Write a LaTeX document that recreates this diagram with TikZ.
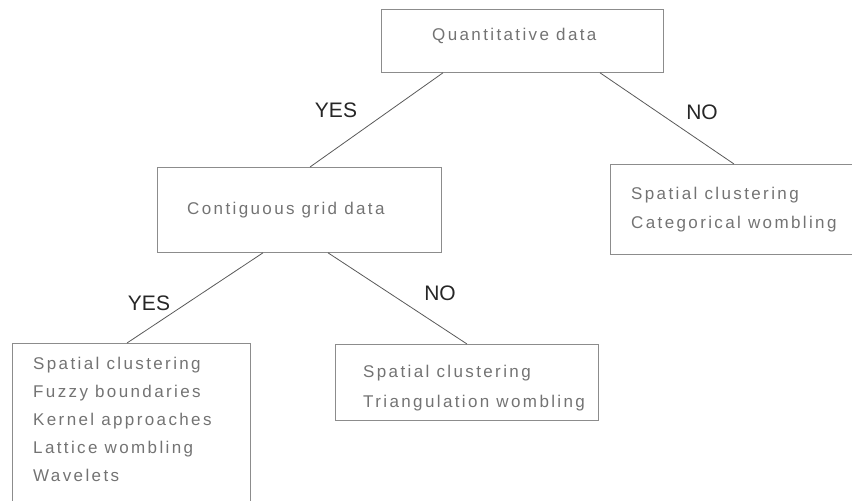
\documentclass[tikz,border=0pt]{standalone}
\usepackage{fontspec}
\setmainfont{Liberation Sans}
\newfontfamily\boxfont[LetterSpace=14]{Liberation Sans}
\tikzset{
  box/.style={draw=black!45, line width=0.8pt, inner sep=0pt, anchor=north west},
  txt/.style={font=\boxfont\fontsize{17}{20}\selectfont, text=black!55, inner sep=0pt, anchor=base west},
  lab/.style={font=\fontsize{21}{24}\selectfont, text=black!85, inner sep=0pt},
  conn/.style={draw=black!65, line width=0.8pt}
}
\begin{document}
\begin{tikzpicture}[x=1pt,y=-1pt]
\useasboundingbox (0,0) rectangle (852,501);
\clip (0,0) rectangle (852,501);
% boxes
\node[box, minimum width=282pt, minimum height=63pt] (q) at (381,9) {};
\node[box, minimum width=284pt, minimum height=85pt] (c) at (157,167) {};
\node[box, minimum width=300pt, minimum height=90pt] (r) at (610,164) {};
\node[box, minimum width=238pt, minimum height=220pt] (l) at (12,343) {};
\node[box, minimum width=263pt, minimum height=76pt] (m) at (335,344) {};
% texts
\node[txt] (tq) at (432,40) {Quantitative data};
\node[txt] (tc) at (187,214) {Contiguous grid data};
\node[txt] (tr1) at (631,199) {Spatial clustering};
\node[txt] (tr2) at (631,228) {Categorical wombling};
\node[txt] (tl1) at (33,369) {Spatial clustering};
\node[txt] (tl2) at (33,397) {Fuzzy boundaries};
\node[txt] (tl3) at (33,425) {Kernel approaches};
\node[txt] (tl4) at (33,453) {Lattice wombling};
\node[txt] (tl5) at (33,481) {Wavelets};
\node[txt] (tm1) at (363,377) {Spatial clustering};
\node[txt] (tm2) at (363,407) {Triangulation wombling};
% connector end points on the boxes
\coordinate (qa) at ([xshift=62pt]q.south west);
\coordinate (qb) at ([xshift=219pt]q.south west);
\coordinate (ca) at ([xshift=153pt]c.north west);
\coordinate (cb) at ([xshift=106pt]c.south west);
\coordinate (cc) at ([xshift=171pt]c.south west);
\coordinate (ra) at ([xshift=124pt]r.north west);
\coordinate (la) at ([xshift=115pt]l.north west);
\coordinate (ma) at ([xshift=132pt]m.north west);
% connectors
\draw[conn] (qa) -- (ca);
\draw[conn] (qb) -- (ra);
\draw[conn] (cb) -- (la);
\draw[conn] (cc) -- (ma);
% labels
\node[lab] (y1) at (336,110) {YES};
\node[lab] (n1) at (702,112) {NO};
\node[lab] (y2) at (149,303) {YES};
\node[lab] (n2) at (440,293) {NO};
\end{tikzpicture}
\end{document}
